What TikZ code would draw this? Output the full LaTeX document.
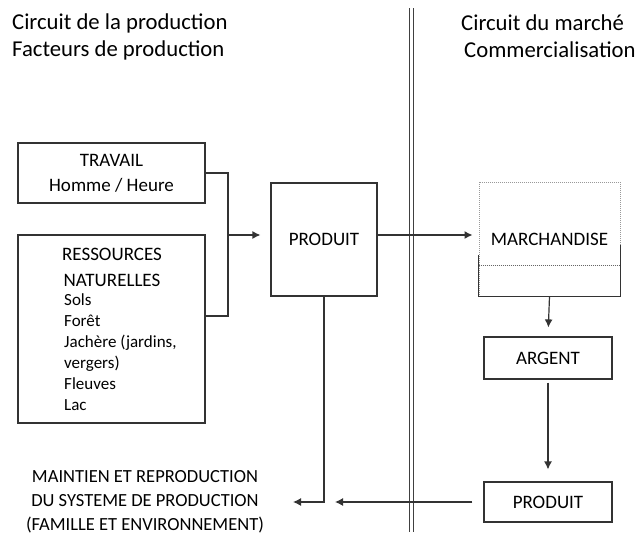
\documentclass[tikz,border=0pt]{standalone}
\usepackage{fontspec}
\setmainfont{Carlito}
\usetikzlibrary{positioning,arrows.meta}

\begin{document}
\begin{tikzpicture}[x=1pt,y=-1pt,
  box/.style={draw=black!80,line width=1.2pt,inner sep=0pt,font=\fontsize{19}{25}\selectfont,align=center},
  head/.style={inner sep=0pt,anchor=west,font=\fontsize{22.7}{28}\selectfont},
  txt/.style={inner sep=0pt,font=\fontsize{18.5}{24}\selectfont,align=center},
  flow/.style={draw=black!80,line width=1.2pt,-{Latex[length=8pt,width=8pt]}}]
  \useasboundingbox (0,0) rectangle (643,541);
  % titles
  \node[head] (prodA) at (12,23) {Circuit de la production};
  \node[head] (prodB) at (12,50) {Facteurs de production};
  \node[head] (marchA) at (461,23) {Circuit du marché};
  \node[head] (marchB) at (464,50) {Commercialisation};
  \draw[black!75,line width=1pt,double=white,double distance=3pt] (411.3,8) -- (411.3,532);
  % facteurs
  \node[box,minimum width=187,minimum height=60] (travail) at (111.5,173) {TRAVAIL\\Homme / Heure};
  \node[box,minimum width=187,minimum height=188] (ressources) at (111.5,329) {};
  \node[txt,font=\fontsize{19}{26}\selectfont] (resstitle) at (112,267) {RESSOURCES\\NATURELLES};
  \node[inner sep=0pt,anchor=north west,align=left,font=\fontsize{17}{21}\selectfont] (ressitems) at (64,293)
    {Sols\\Forêt\\Jachère (jardins,\\vergers)\\Fleuves\\Lac};
  \node[box,minimum width=106,minimum height=113] (produit) at (324,239.5) {PRODUIT};
  % marche
  \node[draw=black!40,densely dotted,line width=1pt,minimum width=141,minimum height=114,inner sep=0pt,
    font=\fontsize{19}{25}\selectfont] (march) at (549.5,239) {MARCHANDISE};
  \coordinate (msplitL) at (0,255);
  \coordinate (msplitR) at (0,245);
  \coordinate (mline) at (0,265);
  \draw[black!60,densely dotted,line width=1pt] (march.west |- mline) -- (march.east |- mline);
  \draw[black!80,line width=1.2pt] (march.west |- msplitL) -- (march.south west) -- (march.south east) -- (march.east |- msplitR);
  \node[box,minimum width=128,minimum height=42] (argent) at (548,358) {ARGENT};
  \node[box,minimum width=128,minimum height=40] (produit2) at (548,502) {PRODUIT};
  \node[txt] (maintien) at (145,502) {MAINTIEN ET REPRODUCTION\\DU SYSTEME DE PRODUCTION\\(FAMILLE ET ENVIRONNEMENT)};
  % connectors
  \coordinate (join) at (228,235);
  \coordinate (ressout) at (205,316);
  \draw[black!80,line width=1.2pt] (travail.east) -| (join |- ressout) -- (ressout);
  \draw[flow,shorten >=10pt] (join) -- (join -| produit.west);
  \draw[flow,shorten >=6pt] (produit.east |- join) -- (join -| march.west);
  \draw[flow,shorten >=9pt] (march.south) -- (argent.north);
  \draw[flow,shorten <=3pt,shorten >=12pt] (argent.south) -- (produit2.north);
  \coordinate (retour) at (335,502);
  \coordinate (entree) at (293,502);
  \draw[flow,shorten <=11pt] (produit2.west) -- (retour);
  \draw[flow] (produit.south) |- (entree);
\end{tikzpicture}
\end{document}
